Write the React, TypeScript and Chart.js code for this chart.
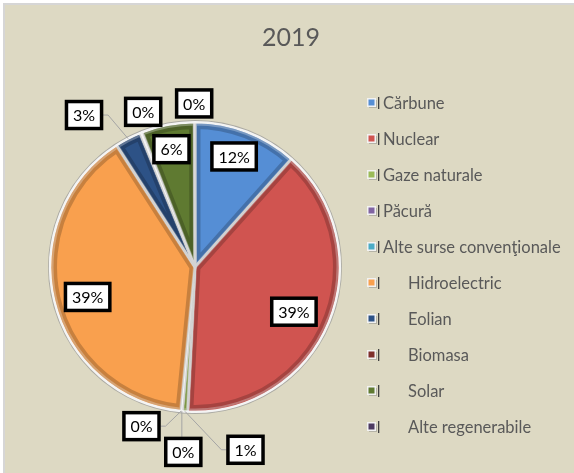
import React, { useEffect, useRef } from 'react';
import { Chart, registerables } from 'chart.js';

Chart.register(...registerables);

const TITLE = '2019';
const CATEGORIES = [
  'Cărbune',
  'Nuclear',
  'Gaze naturale',
  'Păcură',
  'Alte surse convenţionale',
  'Hidroelectric',
  'Eolian',
  'Biomasa',
  'Solar',
  'Alte regenerabile',
];
const VALUES = [11.6, 39.2, 0.6, 0.1, 0.05, 39.35, 2.9, 0.25, 5.9, 0.05];
const COLORS = [
  '#558ed5',
  '#d05450',
  '#9bbb59',
  '#8064a2',
  '#4bacc6',
  '#f9a04e',
  '#2d5286',
  '#7f2f2c',
  '#5f7a31',
  '#4d3b62',
];
// label placement (styling): radius factor of the pie radius and angular nudge in degrees
const LABEL_RADIUS = [0.81, 0.75, 1.31, 1.28, 1.16, 0.77, 1.3, 1.13, 0.83, 1.13];
const LABEL_NUDGE = [-1.4, 2, -19.4, -1.6, 13.1, -2, -8.6, 3.4, -0.5, -0.2];
const LEGEND_INDENT = [false, false, false, false, false, true, true, true, true, true];

const FONT = 'Lato, "Open Sans", sans-serif';
const TEXT_GREY = '#595959';

const backgroundPlugin = {
  id: 'bgPlugin',
  beforeDraw(chart: any) {
    const { ctx, width, height } = chart;
    ctx.save();
    ctx.fillStyle = '#ffffff';
    ctx.fillRect(0, 0, width, height);
    ctx.fillStyle = '#d6d6d6';
    ctx.fillRect(3, 3, width - 3, height - 3);
    ctx.fillStyle = '#ddd9c3';
    ctx.fillRect(5, 5, width - 5, height - 5);
    ctx.fillStyle = TEXT_GREY;
    ctx.font = `25px ${FONT}`;
    ctx.textAlign = 'center';
    ctx.textBaseline = 'middle';
    ctx.fillText(TITLE, 291, 38);
    ctx.restore();
  },
  beforeDatasetsDraw(chart: any) {
    const meta = chart.getDatasetMeta(0);
    const arc = meta.data[0];
    if (!arc) return;
    const { x, y, outerRadius } = arc.getProps(['x', 'y', 'outerRadius'], true);
    const ctx = chart.ctx;
    ctx.save();
    ctx.beginPath();
    ctx.arc(x, y, outerRadius + 1.5, 0, Math.PI * 2);
    ctx.strokeStyle = 'rgba(150,150,150,0.7)';
    ctx.lineWidth = 1.5;
    ctx.stroke();
    ctx.restore();
  },
};

const bevelPlugin = {
  id: 'bevelPlugin',
  afterDatasetsDraw(chart: any) {
    const ctx = chart.ctx;
    const meta = chart.getDatasetMeta(0);
    meta.data.forEach((arc: any) => {
      const { x, y, startAngle, endAngle, outerRadius } = arc.getProps(
        ['x', 'y', 'startAngle', 'endAngle', 'outerRadius'],
        true
      );
      if (endAngle - startAngle < 0.03) return;
      ctx.save();
      ctx.beginPath();
      ctx.moveTo(x, y);
      ctx.arc(x, y, outerRadius - 1.3, startAngle, endAngle);
      ctx.closePath();
      ctx.clip();
      ctx.lineJoin = 'round';
      ctx.strokeStyle = 'rgba(0,0,0,0.2)';
      ctx.lineWidth = 11;
      ctx.stroke();
      ctx.strokeStyle = 'rgba(255,255,255,0.28)';
      ctx.lineWidth = 4;
      ctx.stroke();
      ctx.restore();
    });
  },
};

const labelPlugin = {
  id: 'labelPlugin',
  afterDraw(chart: any) {
    const ctx = chart.ctx;
    const meta = chart.getDatasetMeta(0);
    const data = chart.data.datasets[0].data as number[];
    const total = data.reduce((a, b) => a + b, 0);
    ctx.save();
    ctx.font = `16px ${FONT}`;
    ctx.textAlign = 'center';
    ctx.textBaseline = 'middle';
    meta.data.forEach((arc: any, i: number) => {
      const { x, y, startAngle, endAngle, outerRadius } = arc.getProps(
        ['x', 'y', 'startAngle', 'endAngle', 'outerRadius'],
        true
      );
      const mid = (startAngle + endAngle) / 2;
      const a = mid + (LABEL_NUDGE[i] * Math.PI) / 180;
      const r = outerRadius * LABEL_RADIUS[i];
      const bx = x + Math.cos(a) * r;
      const by = y + Math.sin(a) * r;
      const text = Math.round((data[i] / total) * 100) + '%';
      const tw = ctx.measureText(text).width;
      const w = tw + 13;
      const h = 27;
      const hw = w / 2 + 1.5;
      const hh = h / 2 + 1.5;
      if (LABEL_RADIUS[i] > 1) {
        const ax = x + Math.cos(mid) * outerRadius;
        const ay = y + Math.sin(mid) * outerRadius;
        const pts: [number, number][] = [[ax, ay]];
        if (ax < bx - hw) {
          pts.push([bx - hw - 5, by], [bx - hw, by]);
        } else if (ax > bx + hw) {
          pts.push([bx + hw + 5, by], [bx + hw, by]);
        } else {
          pts.push([ax, ay < by ? by - hh : by + hh]);
        }
        const last = pts[pts.length - 1];
        if (Math.hypot(last[0] - ax, last[1] - ay) > 8) {
          ctx.beginPath();
          ctx.moveTo(pts[0][0], pts[0][1]);
          for (let k = 1; k < pts.length; k++) ctx.lineTo(pts[k][0], pts[k][1]);
          ctx.strokeStyle = '#a5a5a5';
          ctx.lineWidth = 1;
          ctx.stroke();
        }
      }
      ctx.fillStyle = '#ffffff';
      ctx.fillRect(bx - w / 2, by - h / 2, w, h);
      ctx.strokeStyle = '#000000';
      ctx.lineWidth = 3.5;
      ctx.strokeRect(bx - w / 2, by - h / 2, w, h);
      ctx.fillStyle = '#000000';
      ctx.fillText(text, bx, by + 1);
    });
    ctx.restore();
  },
};

const legendPlugin = {
  id: 'customLegend',
  afterDraw(chart: any) {
    const ctx = chart.ctx;
    const x0 = 368;
    const y0 = 103;
    const step = 36;
    ctx.save();
    ctx.font = `16.5px ${FONT}`;
    ctx.textBaseline = 'middle';
    ctx.textAlign = 'left';
    chart.data.labels.forEach((label: string, i: number) => {
      const y = y0 + step * i;
      ctx.fillStyle = '#b5b3a6';
      ctx.fillRect(x0 + 1, y - 3, 8, 8);
      ctx.fillStyle = '#f2f2f2';
      ctx.fillRect(x0 - 1, y - 5, 9, 9);
      ctx.fillStyle = COLORS[i];
      ctx.fillRect(x0 + 0.5, y - 3.5, 6, 6);
      ctx.fillStyle = '#404040';
      ctx.fillRect(x0 + 10, y - 6, 1.3, 12);
      ctx.fillStyle = TEXT_GREY;
      ctx.fillText(label, LEGEND_INDENT[i] ? 408 : 383, y + 1);
    });
    ctx.restore();
  },
};

export default function App() {
  const ref = useRef<HTMLCanvasElement | null>(null);
  useEffect(() => {
    if (!ref.current) return;
    const chart = new Chart(ref.current, {
      type: 'pie',
      data: {
        labels: CATEGORIES,
        datasets: [
          {
            data: VALUES,
            backgroundColor: COLORS,
            borderColor: '#f4f4f4',
            borderWidth: 2.5,
          },
        ],
      },
      options: {
        animation: false,
        responsive: false,
        maintainAspectRatio: false,
        devicePixelRatio: 1,
        layout: { padding: { left: 49, right: 233, top: 121, bottom: 60 } },
        plugins: {
          legend: { display: false },
          tooltip: { enabled: false },
          title: { display: false },
        },
      },
      plugins: [backgroundPlugin, bevelPlugin, labelPlugin, legendPlugin],
    });
    return () => chart.destroy();
  }, []);
  return (
    <div style={{ position: 'fixed', left: 0, top: 0, width: 574, height: 473 }}>
      <canvas ref={ref} width={574} height={473} style={{ display: 'block' }} />
    </div>
  );
}
